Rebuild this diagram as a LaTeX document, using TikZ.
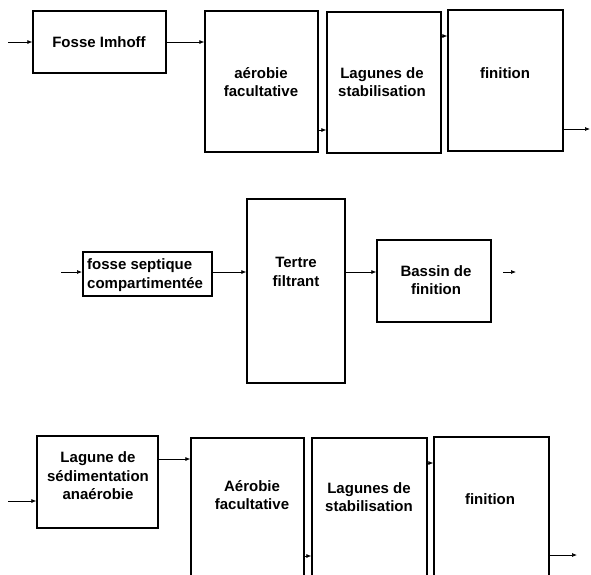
\documentclass[tikz,border=0pt]{standalone}
\usepackage{fontspec}
\setmainfont{Liberation Sans}
\usetikzlibrary{arrows.meta}
\tikzset{
  box/.style={draw, line width=1.3pt, inner sep=0pt, fill=none},
  thickbox/.style={draw, line width=2pt, inner sep=0pt},
  lbl/.style={inner sep=0pt, align=center, font=\fontsize{15}{18.5}\selectfont\bfseries},
  arr/.style={line width=0.7pt, -{Latex[length=5pt,width=4pt]}}
}
\begin{document}
\begin{tikzpicture}[x=1pt,y=-1pt]
\useasboundingbox (0,0) rectangle (591,574);
\clip (0,0) rectangle (591,574);
% ---------- Row 1 ----------
\node[box, minimum width=133pt, minimum height=62pt] (imhoff) at (99.5,42) {};
\node[box, minimum width=113pt, minimum height=141pt] (aero1) at (261.5,81.5) {};
\node[box, minimum width=114pt, minimum height=141pt] (lag1) at (384,82.5) {};
\node[box, minimum width=115pt, minimum height=141pt] (fin1) at (505.5,80.5) {};
\node[lbl] (timhoff) at (99,42) {Fosse Imhoff};
\node[lbl] (taero1) at (261,82) {aérobie\\facultative};
\node[lbl] (tlag1) at (382,82) {Lagunes de\\stabilisation};
\node[lbl] (tfin1) at (505,73) {finition};
\coordinate (in1) at (8,42);
\coordinate (out1) at (590,129);
\coordinate (y130) at (0,130);
\coordinate (y36) at (0,36);
\draw[arr] (in1) -- (imhoff.west);
\draw[arr] (imhoff.east) -- (aero1.west |- imhoff.east);
\draw[arr] (aero1.east |- y130) -- (lag1.west |- y130);
\draw[arr] (lag1.east |- y36) -- (fin1.west |- y36);
\draw[arr] (fin1.east |- out1) -- (out1);
% ---------- Row 2 ----------
\node[thickbox, minimum width=129pt, minimum height=44pt] (sept) at (147.5,274) {};
\node[box, minimum width=98pt, minimum height=184pt] (tertre) at (296,291) {};
\node[box, minimum width=114pt, minimum height=82pt] (bassin) at (434,281) {};
\node[lbl, align=left, anchor=west] (tsept) at (87,275) {fosse septique\\compartimentée};
\node[lbl] (ttertre) at (296,272) {Tertre\\filtrant};
\node[lbl] (tbassin) at (436,280) {Bassin de\\finition};
\coordinate (in2) at (61,272);
\coordinate (out2a) at (503,272);
\coordinate (out2b) at (516,272);
\draw[arr] (in2) -- (sept.west |- in2);
\draw[arr] (sept.east |- in2) -- (tertre.west |- in2);
\draw[arr] (tertre.east |- in2) -- (bassin.west |- in2);
\draw[arr] (out2a) -- (out2b);
% ---------- Row 3 ----------
\node[box, minimum width=121pt, minimum height=92pt] (sed) at (97.5,482) {};
\node[box, minimum width=113pt, minimum height=162pt] (aero3) at (247.5,519) {};
\node[box, minimum width=115pt, minimum height=162pt] (lag3) at (369.5,519) {};
\node[box, minimum width=115pt, minimum height=163pt] (fin3) at (491.5,518.5) {};
\node[lbl] (tsed) at (98,476) {Lagune de\\sédimentation\\anaérobie};
\node[lbl] (taero3) at (252,495) {Aérobie\\facultative};
\node[lbl] (tlag3) at (369,497) {Lagunes de\\stabilisation};
\node[lbl] (tfin3) at (490,499) {finition};
\coordinate (in3) at (8,501);
\coordinate (out3) at (577,555);
\coordinate (y459) at (0,459);
\coordinate (y556) at (0,556);
\coordinate (y463) at (0,463);
\draw[arr] (in3) -- (sed.west |- in3);
\draw[arr] (sed.east |- y459) -- (aero3.west |- y459);
\draw[arr] (aero3.east |- y556) -- (lag3.west |- y556);
\draw[arr] (lag3.east |- y463) -- (fin3.west |- y463);
\draw[arr] (fin3.east |- out3) -- (out3);
\end{tikzpicture}
\end{document}
